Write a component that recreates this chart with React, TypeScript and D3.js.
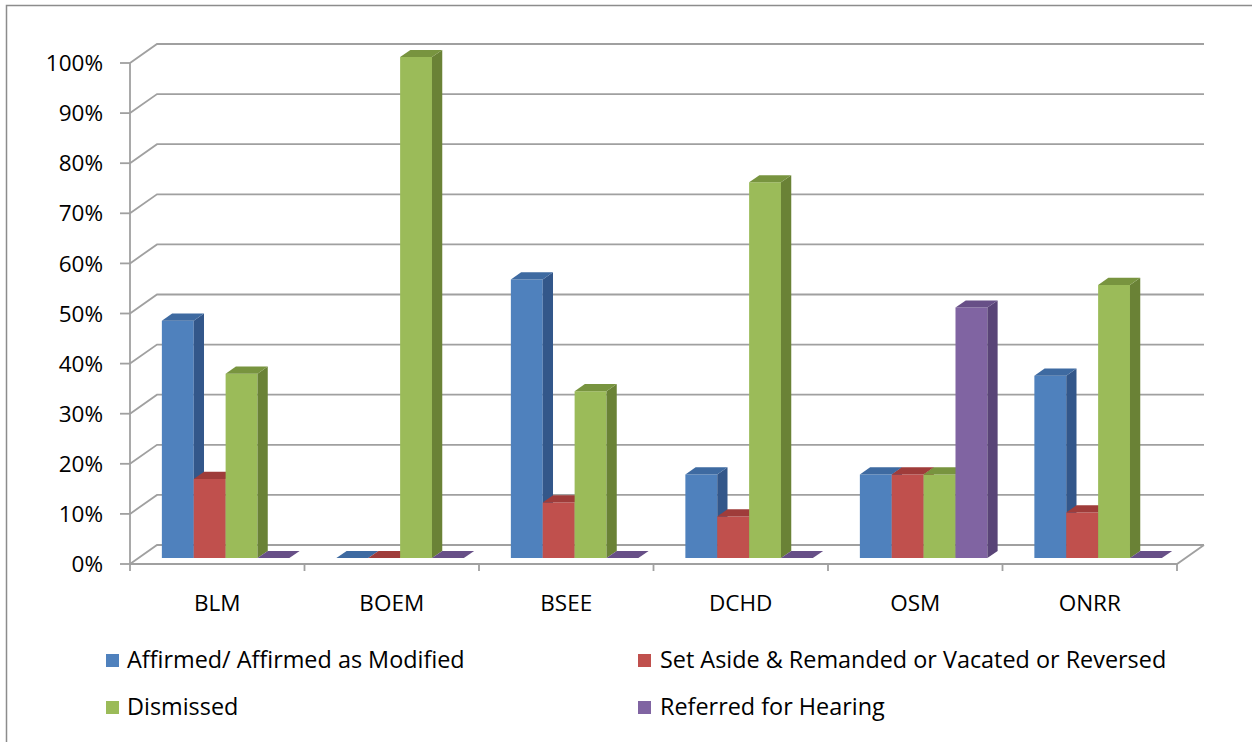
import React from "react";
import * as d3 from "d3";

const categories = ["BLM", "BOEM", "BSEE", "DCHD", "OSM", "ONRR"];
const seriesNames = [
  "Affirmed/ Affirmed as Modified",
  "Set Aside & Remanded or Vacated or Reversed",
  "Dismissed",
  "Referred for Hearing",
];
const affirmed = [0.474, 0, 0.556, 0.167, 0.167, 0.364];
const setAside = [0.158, 0, 0.111, 0.083, 0.167, 0.091];
const dismissed = [0.368, 1.0, 0.333, 0.75, 0.167, 0.545];
const referred = [0, 0, 0, 0, 0.5, 0];
const yTicks = [0, 0.1, 0.2, 0.3, 0.4, 0.5, 0.6, 0.7, 0.8, 0.9, 1.0];

const seriesValues = [affirmed, setAside, dismissed, referred];

// front / top / side shades per series
const palette = [
  { front: "#4f81bd", top: "#3e6aa1", side: "#33578a" },
  { front: "#c0504d", top: "#9f3c3a", side: "#8d3432" },
  { front: "#9bbb59", top: "#78943f", side: "#6a8236" },
  { front: "#8064a2", top: "#674f87", side: "#594477" },
];

const W = 1252;
const H = 742;
const FONT = "'Open Sans', Lato, sans-serif";
const FS = 22.5;
const LEGEND_FS = 23.4;

// oblique 3D frame
const originX = 130;
const plotW = 1047;
const depthDX = 27;
const depthDY = 19;
const barD0 = 0.31;
const barD1 = 0.69;
const gridColor = "#a0a0a0";

export default function App() {
  const y = d3.scaleLinear().domain([0, 1]).range([564, 63]);
  const xCat = d3.scaleBand<string>().domain(categories).range([0, plotW]);
  const gap = 23.5;
  const xSer = d3
    .scaleBand<number>()
    .domain(d3.range(seriesNames.length))
    .range([gap, xCat.bandwidth() - gap]);

  const P = (x: number, v: number, d: number): [number, number] => [
    originX + x + d * depthDX,
    y(v) - d * depthDY,
  ];
  const poly = (pts: [number, number][]) => pts.map((p) => p.join(",")).join(" ");

  const bars: React.ReactNode[] = [];
  categories.forEach((c, ci) => {
    seriesValues.forEach((vals, si) => {
      const v = vals[ci];
      const x0 = (xCat(c) as number) + (xSer(si) as number);
      const x1 = x0 + xSer.bandwidth();
      const col = palette[si];
      bars.push(
        <g key={`${c}-${si}`}>
          <polygon
            points={poly([P(x0, 0, barD0), P(x1, 0, barD0), P(x1, v, barD0), P(x0, v, barD0)])}
            fill={col.front}
          />
          <polygon
            points={poly([P(x1, 0, barD0), P(x1, 0, barD1), P(x1, v, barD1), P(x1, v, barD0)])}
            fill={col.side}
          />
          <polygon
            points={poly([P(x0, v, barD0), P(x1, v, barD0), P(x1, v, barD1), P(x0, v, barD1)])}
            fill={col.top}
          />
        </g>
      );
    });
  });

  const legendItems = [
    { i: 0, sx: 106, tx: 127, ty: 660 },
    { i: 1, sx: 638, tx: 660, ty: 660 },
    { i: 2, sx: 106, tx: 127, ty: 707 },
    { i: 3, sx: 638, tx: 660, ty: 707 },
  ];

  return (
    <svg
      width={W}
      height={H}
      style={{ position: "absolute", left: 0, top: 0, display: "block", background: "#fff" }}
    >
      <rect x={6.5} y={5.5} width={W + 10} height={H + 10} fill="none" stroke="#8c8c8c" strokeWidth={1.5} />

      {/* back wall gridlines and side-wall diagonals */}
      {yTicks.map((t) => {
        const [fx, fy] = P(0, t, 0);
        const [bx, by] = P(0, t, 1);
        const [ex] = P(plotW, t, 1);
        return (
          <g key={`g${t}`} stroke={gridColor} strokeWidth={1.8} fill="none">
            <polyline points={`${fx},${fy} ${bx},${by} ${ex},${by}`} />
            <line x1={120} x2={fx} y1={fy} y2={fy} />
          </g>
        );
      })}

      {/* floor edges, value axis and category ticks */}
      <g stroke={gridColor} strokeWidth={1.8} fill="none">
        <polyline points={poly([P(0, 0, 0), P(plotW, 0, 0), P(plotW, 0, 1)])} />
        <line x1={originX} x2={originX} y1={y(0)} y2={y(1)} />
        {d3.range(categories.length + 1).map((i) => {
          const [tx, ty] = P(i * xCat.step(), 0, 0);
          return <line key={`ct${i}`} x1={tx} x2={tx} y1={ty} y2={ty + 7} />;
        })}
      </g>

      {bars}

      {/* value axis labels */}
      {yTicks.map((t) => (
        <text
          key={`yl${t}`}
          x={103}
          y={y(t)}
          dy="0.36em"
          textAnchor="end"
          fontFamily={FONT}
          fontSize={FS}
          fill="#000"
        >
          {`${Math.round(t * 100)}%`}
        </text>
      ))}

      {/* category labels */}
      {categories.map((c) => (
        <text
          key={`cl${c}`}
          x={originX + (xCat(c) as number) + xCat.bandwidth() / 2}
          y={603}
          dy="0.36em"
          textAnchor="middle"
          fontFamily={FONT}
          fontSize={FS}
          fill="#000"
        >
          {c}
        </text>
      ))}

      {/* legend */}
      {legendItems.map((it) => (
        <g key={`lg${it.i}`}>
          <rect x={it.sx} y={it.ty - 6} width={13} height={13} fill={palette[it.i].front} />
          <text x={it.tx} y={it.ty} dy="0.36em" fontFamily={FONT} fontSize={LEGEND_FS} fill="#000">
            {seriesNames[it.i]}
          </text>
        </g>
      ))}
    </svg>
  );
}
